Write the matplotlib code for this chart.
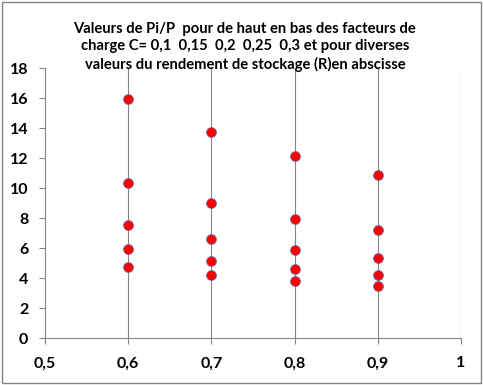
import matplotlib.pyplot as plt
from matplotlib.patches import Rectangle
from matplotlib.ticker import FuncFormatter

# rendement de stockage R (abscisse)
rendement = [0.6, 0.7, 0.8, 0.9]
# Pi/P pour C = 0,1  0,15  0,2  0,25  0,3 (de haut en bas)
pi_sur_p = {
    0.6: [15.98, 10.38, 7.58, 5.96, 4.78],
    0.7: [13.78, 9.05, 6.65, 5.18, 4.25],
    0.8: [12.18, 7.98, 5.91, 4.65, 3.85],
    0.9: [10.91, 7.25, 5.36, 4.25, 3.51],
}
x_ticks = [0.5, 0.6, 0.7, 0.8, 0.9, 1.0]
y_ticks = list(range(0, 19, 2))

titre = ("Valeurs de Pi/P  pour de haut en bas des facteurs de\n"
         "charge C= 0,1  0,15  0,2  0,25  0,3 et pour diverses\n"
         "valeurs du rendement de stockage (R)en abscisse")

gris = '#868686'
plt.rcParams['font.family'] = ['Lato', 'DejaVu Sans']

fig = plt.figure(figsize=(4.83, 3.85), dpi=100)
fig.patches.append(Rectangle((0.004, 0.006), 0.991, 0.988, transform=fig.transFigure,
                             fill=False, edgecolor=gris, linewidth=1.0))
ax = fig.add_axes([0.0932, 0.1213, 0.8613, 0.7013])

xs, ys = [], []
for r in rendement:
    for v in pi_sur_p[r]:
        xs.append(r)
        ys.append(v)
ax.scatter(xs, ys, s=50, c='#FF0000', edgecolors='#6A6AA8', linewidths=0.6, zorder=3)

ax.set_xlim(0.5, 1.0)
ax.set_ylim(0, 18)
ax.set_xticks(x_ticks)
ax.set_yticks(y_ticks)
ax.xaxis.set_major_formatter(FuncFormatter(lambda v, p: ('%g' % round(v, 2)).replace('.', ',')))
ax.grid(axis='x', color=gris, linewidth=0.8)
ax.set_axisbelow(True)
for s in ['top', 'right']:
    ax.spines[s].set_visible(False)
for s in ['left', 'bottom']:
    ax.spines[s].set_color(gris)
    ax.spines[s].set_linewidth(0.8)
ax.tick_params(axis='both', colors=gris, length=4, width=0.8, labelcolor='black')
ax.tick_params(axis='y', pad=8)
ax.tick_params(axis='x', pad=9)
for lbl in ax.get_xticklabels() + ax.get_yticklabels():
    lbl.set_fontweight('bold')
    lbl.set_fontsize(11.5)

fig.text(0.507, 0.879, titre, ha='center', va='center', fontsize=10.6, fontweight='bold',
         linespacing=1.3)

fig.savefig('out.png', dpi=100)
